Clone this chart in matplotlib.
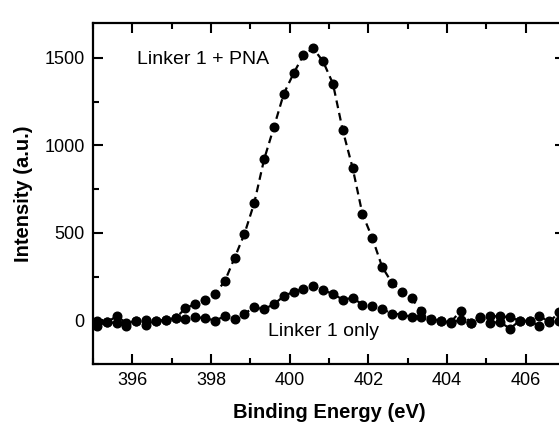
import matplotlib
matplotlib.use("Agg")
import matplotlib.pyplot as plt
from matplotlib.ticker import MultipleLocator

plt.rcParams['font.family'] = ['Liberation Sans', 'DejaVu Sans']

energy = [395.10, 395.35, 395.60, 395.85, 396.10, 396.35, 396.60, 396.85,
          397.10, 397.35, 397.60, 397.85, 398.10, 398.35, 398.60, 398.85,
          399.10, 399.35, 399.60, 399.85, 400.10, 400.35, 400.60, 400.85,
          401.10, 401.35, 401.60, 401.85, 402.10, 402.35, 402.60, 402.85,
          403.10, 403.35, 403.60, 403.85, 404.10, 404.35, 404.60, 404.85,
          405.10, 405.35, 405.60, 405.85, 406.10, 406.35, 406.60, 406.85]

linker_pna = [-5, -12, 23, -15, -6, 4, -2, 0,
              13, 68, 95, 116, 151, 223, 357, 494,
              671, 920, 1105, 1295, 1412, 1517, 1555, 1480,
              1353, 1086, 872, 608, 471, 306, 214, 164,
              125, 52, 4, -6, -10, 55, -15, 17,
              23, 23, 17, -2, -2, 25, -10, 45]

linker_only = [-30, -12, -15, -34, -6, -25, -2, 0,
               13, 10, 17, 13, -2, 23, 10, 38,
               74, 63, 93, 137, 164, 181, 195, 172,
               151, 118, 128, 90, 80, 65, 38, 33,
               19, 20, 10, -6, -15, 4, -15, 13,
               -15, -10, -48, -2, -2, -34, -6, -2]

label_pna = "Linker 1 + PNA"
label_only = "Linker 1 only"

fig = plt.figure(figsize=(5.59, 4.24), dpi=100)
ax = fig.add_axes([93 / 559, 60 / 424, 472 / 559, 341 / 424])

style = dict(color='black', linestyle=(0, (3.5, 2.2)), linewidth=1.6,
             marker='o', markersize=6.2)
ax.plot(energy, linker_pna, **style)
ax.plot(energy, linker_only, **style)

ax.set_xlim(395, 407)
ax.set_ylim(-250, 1700)
ax.xaxis.set_major_locator(MultipleLocator(2))
ax.xaxis.set_minor_locator(MultipleLocator(1))
ax.yaxis.set_major_locator(MultipleLocator(500))
ax.yaxis.set_minor_locator(MultipleLocator(250))

ax.tick_params(which='both', direction='in', top=True, right=True,
               width=1.5, labelsize=13, pad=6)
ax.tick_params(which='major', length=7)
ax.tick_params(which='minor', length=4)
for s in ax.spines.values():
    s.set_linewidth(1.6)

ax.set_xlabel("Binding Energy (eV)", fontsize=14.5, fontweight='bold', labelpad=10)
ax.set_ylabel("Intensity (a.u.)", fontsize=14.5, fontweight='bold', labelpad=8)

ax.text(396.13, 1494, label_pna, fontsize=14, ha='left', va='center')
ax.text(399.44, -63, label_only, fontsize=14, ha='left', va='center')

fig.savefig("out.png", dpi=100)
